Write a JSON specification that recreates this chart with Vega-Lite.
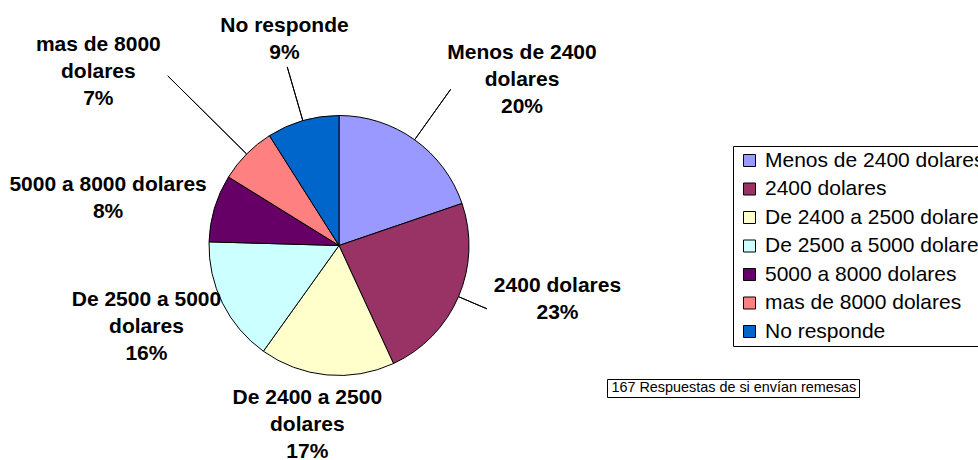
{
  "$schema": "https://vega.github.io/schema/vega-lite/v6.json",
  "width": 678,
  "height": 429,
  "autosize": {"type": "none"},
  "padding": {"left": 0, "top": 31, "right": 300, "bottom": 0},
  "background": "white",
  "config": {"view": {"stroke": null}, "font": "Liberation Sans"},
  "data": {
    "values": [
      {"cat": "Menos de 2400 dolares", "n": 33, "orden": 1, "label": "Menos de 2400\ndolares\n20%"},
      {"cat": "2400 dolares", "n": 39, "orden": 2, "label": "2400 dolares\n23%"},
      {"cat": "De 2400 a 2500 dolares", "n": 28, "orden": 3, "label": "De 2400 a 2500\ndolares\n17%"},
      {"cat": "De 2500 a 5000 dolares", "n": 26, "orden": 4, "label": "De 2500 a 5000\ndolares\n16%"},
      {"cat": "5000 a 8000 dolares", "n": 14, "orden": 5, "label": "5000 a 8000 dolares\n8%"},
      {"cat": "mas de 8000 dolares", "n": 12, "orden": 6, "label": "mas de 8000\ndolares\n7%"},
      {"cat": "No responde", "n": 15, "orden": 7, "label": "No responde\n9%"}
    ]
  },
  "encoding": {
    "theta": {"field": "n", "type": "quantitative", "stack": true},
    "order": {"field": "orden", "type": "quantitative"}
  },
  "layer": [
    {
      "mark": {"type": "arc", "radius": 130, "stroke": "#000000", "strokeWidth": 1},
      "encoding": {
        "color": {
          "field": "cat",
          "type": "nominal",
          "scale": {
            "domain": ["Menos de 2400 dolares", "2400 dolares", "De 2400 a 2500 dolares", "De 2500 a 5000 dolares", "5000 a 8000 dolares", "mas de 8000 dolares", "No responde"],
            "range": ["#9999FF", "#993366", "#FFFFCC", "#CCFFFF", "#660066", "#FF8080", "#0066CC"]
          },
          "legend": {
            "title": null,
            "orient": "none",
            "legendX": 733,
            "legendY": 115,
            "strokeColor": "#000000",
            "padding": 4,
            "symbolType": "square",
            "symbolSize": 144,
            "symbolOffset": 2,
            "symbolStrokeColor": "#000000",
            "symbolStrokeWidth": 1,
            "labelFont": "Liberation Sans",
            "labelFontSize": 21,
            "labelColor": "#000000",
            "labelLimit": 1000,
            "labelOffset": 5,
            "rowPadding": 6.5
          }
        },
        "opacity": {
          "datum": "167 Respuestas de si envían remesas",
          "type": "nominal",
          "scale": {"range": [1]},
          "legend": {
            "title": null,
            "orient": "none",
            "legendX": 607,
            "legendY": 348,
            "strokeColor": "#000000",
            "padding": 2,
            "symbolSize": 0,
            "symbolOpacity": 0,
            "symbolStrokeWidth": 0,
            "labelFont": "Liberation Sans",
            "labelFontSize": 14.4,
            "labelColor": "#000000",
            "labelOffset": -12,
            "labelLimit": 1000
          }
        }
      }
    },
    {
      "mark": {"type": "arc", "radius": 192, "radius2": 130, "padAngle": 3.14, "stroke": "#000000", "strokeWidth": 1, "fillOpacity": 0},
      "encoding": {
        "detail": {"field": "cat"},
        "strokeOpacity": {"condition": {"test": "datum.cat === 'Menos de 2400 dolares'", "value": 1}, "value": 0}
      }
    },
    {
      "mark": {"type": "arc", "radius": 161, "radius2": 130, "padAngle": 3.14, "stroke": "#000000", "strokeWidth": 1, "fillOpacity": 0},
      "encoding": {
        "detail": {"field": "cat"},
        "strokeOpacity": {"condition": {"test": "datum.cat === '2400 dolares'", "value": 1}, "value": 0}
      }
    },
    {
      "mark": {"type": "arc", "radius": 241, "radius2": 130, "padAngle": 3.14, "stroke": "#000000", "strokeWidth": 1, "fillOpacity": 0},
      "encoding": {
        "detail": {"field": "cat"},
        "strokeOpacity": {"condition": {"test": "datum.cat === 'mas de 8000 dolares'", "value": 1}, "value": 0}
      }
    },
    {
      "mark": {"type": "arc", "radius": 186, "radius2": 130, "padAngle": 3.14, "stroke": "#000000", "strokeWidth": 1, "fillOpacity": 0},
      "encoding": {
        "detail": {"field": "cat"},
        "strokeOpacity": {"condition": {"test": "datum.cat === 'No responde'", "value": 1}, "value": 0}
      }
    },
    {
      "mark": {"type": "text", "radius": 263, "dx": 30, "dy": 21, "font": "Liberation Sans", "fontSize": 21, "fontWeight": "bold", "lineHeight": 27, "lineBreak": "\n", "align": "center", "baseline": "middle", "fill": "#000000"},
      "encoding": {
        "detail": {"field": "cat"},
        "text": {"condition": {"test": "datum.cat === 'Menos de 2400 dolares'", "field": "label"}, "value": ""}
      }
    },
    {
      "mark": {"type": "text", "radius": 217, "dx": 19, "dy": -45, "font": "Liberation Sans", "fontSize": 21, "fontWeight": "bold", "lineHeight": 27, "lineBreak": "\n", "align": "center", "baseline": "middle", "fill": "#000000"},
      "encoding": {
        "detail": {"field": "cat"},
        "text": {"condition": {"test": "datum.cat === '2400 dolares'", "field": "label"}, "value": ""}
      }
    },
    {
      "mark": {"type": "text", "radius": 156, "dx": -17, "dy": -3, "font": "Liberation Sans", "fontSize": 21, "fontWeight": "bold", "lineHeight": 27, "lineBreak": "\n", "align": "center", "baseline": "middle", "fill": "#000000"},
      "encoding": {
        "detail": {"field": "cat"},
        "text": {"condition": {"test": "datum.cat === 'De 2400 a 2500 dolares'", "field": "label"}, "value": ""}
      }
    },
    {
      "mark": {"type": "text", "radius": 196, "dx": -17, "dy": -33, "font": "Liberation Sans", "fontSize": 21, "fontWeight": "bold", "lineHeight": 27, "lineBreak": "\n", "align": "center", "baseline": "middle", "fill": "#000000"},
      "encoding": {
        "detail": {"field": "cat"},
        "text": {"condition": {"test": "datum.cat === 'De 2500 a 5000 dolares'", "field": "label"}, "value": ""}
      }
    },
    {
      "mark": {"type": "text", "radius": 239, "dx": -2, "dy": 8, "font": "Liberation Sans", "fontSize": 21, "fontWeight": "bold", "lineHeight": 27, "lineBreak": "\n", "align": "center", "baseline": "middle", "fill": "#000000"},
      "encoding": {
        "detail": {"field": "cat"},
        "text": {"condition": {"test": "datum.cat === '5000 a 8000 dolares'", "field": "label"}, "value": ""}
      }
    },
    {
      "mark": {"type": "text", "radius": 312, "dx": -19, "dy": 19, "font": "Liberation Sans", "fontSize": 21, "fontWeight": "bold", "lineHeight": 27, "lineBreak": "\n", "align": "center", "baseline": "middle", "fill": "#000000"},
      "encoding": {
        "detail": {"field": "cat"},
        "text": {"condition": {"test": "datum.cat === 'mas de 8000 dolares'", "field": "label"}, "value": ""}
      }
    },
    {
      "mark": {"type": "text", "radius": 228, "dx": 9, "dy": -1, "font": "Liberation Sans", "fontSize": 21, "fontWeight": "bold", "lineHeight": 27, "lineBreak": "\n", "align": "center", "baseline": "middle", "fill": "#000000"},
      "encoding": {
        "detail": {"field": "cat"},
        "text": {"condition": {"test": "datum.cat === 'No responde'", "field": "label"}, "value": ""}
      }
    }
  ]
}
